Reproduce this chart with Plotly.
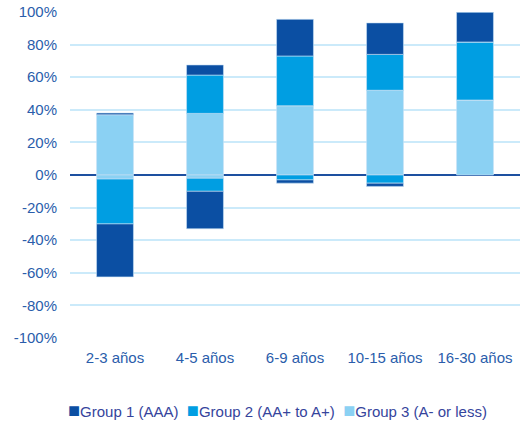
import plotly.graph_objects as go

categories = ["2-3 años", "4-5 años", "6-9 años", "10-15 años", "16-30 años"]

# Positive and negative contributions per rating group (in %)
group1_pos = [1.0, 6.2, 22.5, 19.3, 18.4]
group1_neg = [-32.5, -23.0, -2.0, -2.0, 0.0]
group2_pos = [0.0, 23.5, 30.5, 22.0, 35.6]
group2_neg = [-27.5, -8.0, -3.0, -5.0, 0.0]
group3_pos = [37.0, 37.8, 42.5, 52.0, 46.0]
group3_neg = [-2.5, -2.0, 0.0, 0.0, 0.0]

names = ["Group 1 (AAA)", "Group 2 (AA+ to A+)", "Group 3 (A- or less)"]
colors = ["#0b4fa3", "#009ee2", "#8bd1f3"]

tick_vals = [-100, -80, -60, -40, -20, 0, 20, 40, 60, 80, 100]
tick_text = [f"{v}%" for v in tick_vals]

fig = go.Figure()

# Stack order from zero outwards: group 3, group 2, group 1
series = [
    (names[2], colors[2], group3_pos, group3_neg),
    (names[1], colors[1], group2_pos, group2_neg),
    (names[0], colors[0], group1_pos, group1_neg),
]
for name, color, pos, neg in series:
    for vals in (pos, neg):
        fig.add_trace(go.Bar(
            x=categories, y=vals, name=name, legendgroup=name,
            showlegend=False,
            marker=dict(color=color, line=dict(color="rgba(200,225,245,0.6)", width=1)),
            hoverinfo="x+y+name",
        ))

# Compact legend row below the plot: coloured square followed by the group name
legend_html = " &nbsp;".join(
    f"<span style='color:{c};font-size:20px'>■</span>{n}" for n, c in zip(names, colors)
)
fig.add_annotation(
    text=legend_html, xref="paper", yref="paper",
    x=0.461, y=-0.221, xanchor="center", yanchor="middle",
    showarrow=False, font=dict(size=15, color="#35449c"),
)

fig.update_layout(
    width=520, height=421,
    margin=dict(l=70, r=0, t=12, b=83),
    paper_bgcolor="white", plot_bgcolor="white",
    barmode="relative", bargap=0.59,
    font=dict(family="Liberation Sans, Arial, sans-serif", size=15, color="#2a5dab"),
    showlegend=False,
)
fig.update_xaxes(
    showgrid=False, showline=False, ticks="", ticklabelstandoff=9,
    tickfont=dict(size=15, color="#2a5dab"),
)
fig.update_yaxes(
    range=[-100, 100], tickvals=tick_vals, ticktext=tick_text,
    showgrid=True, gridcolor="#cbeafa", gridwidth=1.5,
    zeroline=True, zerolinecolor="#1d50a0", zerolinewidth=1.5,
    ticks="", ticklabelstandoff=12, tickfont=dict(size=15, color="#2a5dab"),
)

fig.write_html("out.html")
